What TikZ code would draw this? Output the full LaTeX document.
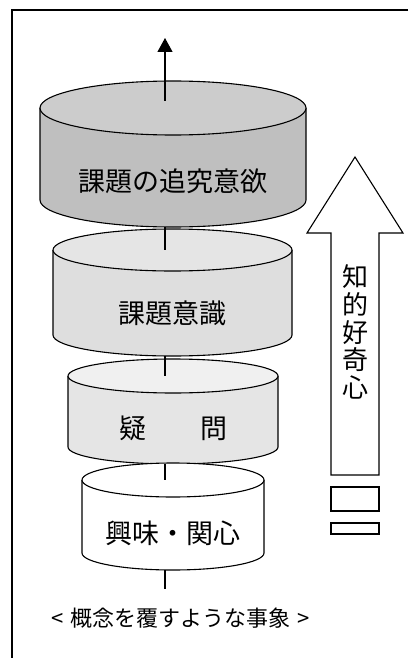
\documentclass[tikz,border=0pt]{standalone}
\usepackage{fontspec}
\setmainfont{Noto Sans CJK JP}
\usetikzlibrary{arrows.meta}
\tikzstyle{edge}=[line width=1.1pt]
\tikzstyle{drumtext}=[inner sep=0pt, font=\fontsize{27}{30}\selectfont]
% name, cx, ytop, ybot, rx, ry, end fill, body fill, text
\newcommand{\drum}[9]{
	\fill[#8] (#2-#5,#3) -- (#2-#5,#4) arc[start angle=180,end angle=360,x radius=#5,y radius=#6] -- (#2+#5,#3) -- cycle;
	\draw[edge] (#2-#5,#3) -- (#2-#5,#4) arc[start angle=180,end angle=360,x radius=#5,y radius=#6] -- (#2+#5,#3);
	\draw[edge,fill=#7] (#2,#3) ellipse[x radius=#5,y radius=#6];
	\node[drumtext] (#1) at (#2,{(#3+#4)/2-#6}) {#9};
	\coordinate (#1top) at (165,#3);
	\coordinate (#1bot) at (165,#4-#6);
}

\begin{document}
\begin{tikzpicture}[x=1pt,y=1pt]
\useasboundingbox (0,0) rectangle (408,-658);
\draw[edge] (408,-10) -- (12,-10) -- (12,-658);

\drum{d1}{173}{-108}{-200}{133}{27}{black!20}{black!25}{課題の追究意欲}
\drum{d2}{172.5}{-250}{-335}{119.5}{21}{black!10}{black!13}{課題意識}
\drum{d3}{173}{-376}{-447}{105}{17}{black!6}{black!10}{疑　　問}
\drum{d4}{173}{-480}{-553}{91}{17}{white}{white}{興味・関心}

\coordinate (top) at (165,-38);
\coordinate (base) at (165,-589);
\draw[edge,-{Triangle[width=15pt,length=14pt]}] (165,-101) -- (top);
\foreach \a/\b in {d1bot/d2top,d2bot/d3top,d3bot/d4top,d4bot/base}
	\draw[edge] (\a) -- (\b);

\node[inner sep=0pt,font=\fontsize{22}{24}\selectfont] (phen) at (181,-618) {<\hspace{7pt}概念を覆すような事象\hspace{7pt}>};

% curiosity arrow
\draw[edge,fill=white] (355,-157) -- (403,-233) -- (379,-233) -- (379,-475) -- (331,-475)
	-- (331,-233) -- (307,-233) -- cycle;
\draw[edge] (331,-487) rectangle (379,-511);
\draw[edge] (331,-523) rectangle (379,-534);
\node[inner sep=0pt,align=center,font=\fontsize{26}{27.7}\selectfont] (curio) at (355,-332) {知\\的\\好\\奇\\心};
\end{tikzpicture}
\end{document}
